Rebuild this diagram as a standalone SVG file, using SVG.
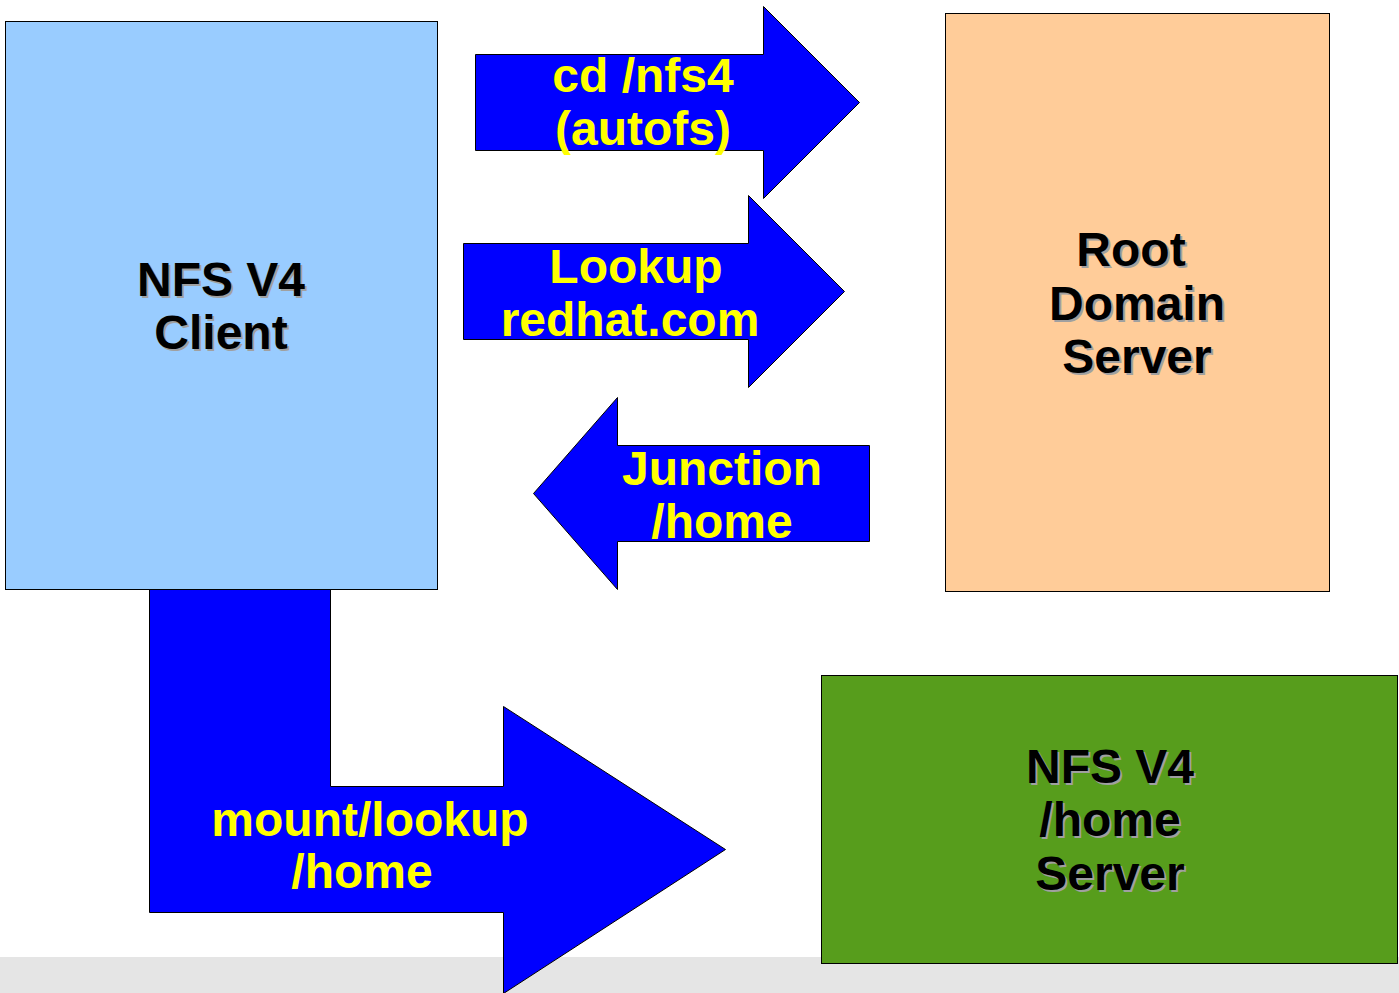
<svg xmlns="http://www.w3.org/2000/svg" width="1399" height="993" viewBox="0 0 1399 993">
<style>
.box{stroke:#000;stroke-width:1}
.arr{fill:#0000ff;stroke:#000;stroke-width:1}
.lbl{font-family:"Liberation Sans",Arial,sans-serif;font-weight:bold;font-size:48px;text-anchor:middle}
.dark{fill:#000}
.sh{fill:#a0a0a0}
.yel{fill:#ffff00}
</style>
<rect x="0" y="957" width="1399" height="36" fill="#e5e5e5"/>
<g id="client">
<rect class="box" x="5.5" y="21.5" width="432" height="568" fill="#99ccff"/>
<text class="lbl sh" x="223" y="298">NFS V4</text>
<text class="lbl sh" x="223" y="351">Client</text>
<text class="lbl dark" x="221" y="296">NFS V4</text>
<text class="lbl dark" x="221" y="349">Client</text>
</g>
<g id="root">
<rect class="box" x="945.5" y="13.5" width="384" height="578" fill="#ffcc99"/>
<text class="lbl sh" x="1133" y="268">Root</text>
<text class="lbl sh" x="1139" y="322">Domain</text>
<text class="lbl sh" x="1139" y="375">Server</text>
<text class="lbl dark" x="1131" y="266">Root</text>
<text class="lbl dark" x="1137" y="320">Domain</text>
<text class="lbl dark" x="1137" y="373">Server</text>
</g>
<g id="homeserver">
<rect class="box" x="821.5" y="675.5" width="576" height="288" fill="#579d1c"/>
<text class="lbl sh" x="1112" y="785">NFS V4</text>
<text class="lbl sh" x="1112" y="838">/home</text>
<text class="lbl sh" x="1112" y="892">Server</text>
<text class="lbl dark" x="1110" y="783">NFS V4</text>
<text class="lbl dark" x="1110" y="836">/home</text>
<text class="lbl dark" x="1110" y="890">Server</text>
</g>
<g id="connectors">
<g id="arrow-cd">
<polygon class="arr" points="475.5,54.5 763.5,54.5 763.5,6.5 859.5,102.5 763.5,198.5 763.5,150.5 475.5,150.5"/>
<text class="lbl yel" x="643" y="92">cd /nfs4</text>
<text class="lbl yel" x="643" y="145">(autofs)</text>
</g>
<g id="arrow-lookup">
<polygon class="arr" points="463.5,243.5 748.5,243.5 748.5,195.5 844.5,291.5 748.5,387.5 748.5,339.5 463.5,339.5"/>
<text class="lbl yel" x="636" y="283">Lookup</text>
<text class="lbl yel" x="630" y="336">redhat.com</text>
</g>
<g id="arrow-junction">
<polygon class="arr" points="869.5,445.5 617.5,445.5 617.5,397.5 533.5,493.5 617.5,589.5 617.5,541.5 869.5,541.5"/>
<text class="lbl yel" x="722" y="485">Junction</text>
<text class="lbl yel" x="722" y="538">/home</text>
</g>
<g id="arrow-mount">
<polygon class="arr" points="149.5,589.5 330.5,589.5 330.5,786.5 503.5,786.5 503.5,706.5 725.5,849.5 503.5,993.5 503.5,912.5 149.5,912.5"/>
<text class="lbl yel" x="370" y="836">mount/lookup</text>
<text class="lbl yel" x="362" y="888">/home</text>
</g>
</g>
</svg>
